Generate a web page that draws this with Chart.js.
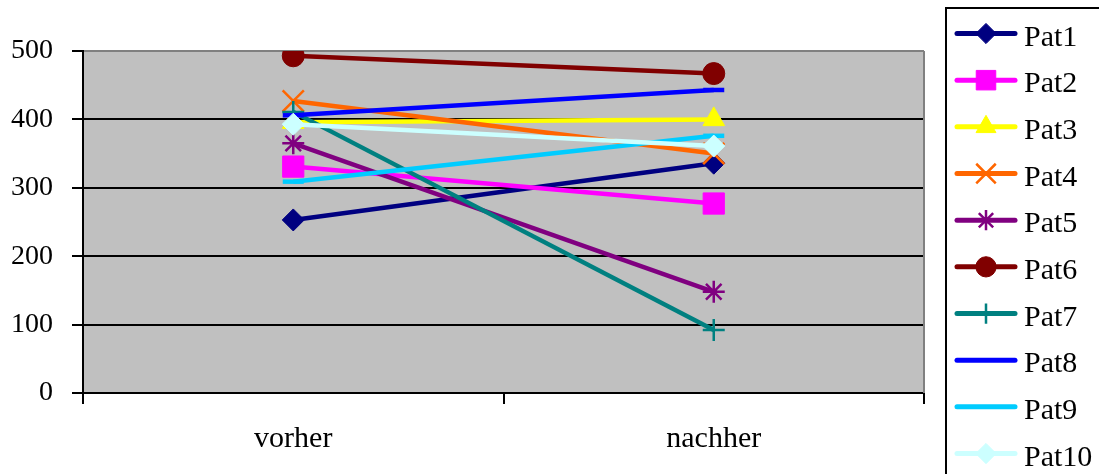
<!DOCTYPE html>
<html>
<head>
<meta charset="utf-8">
<script src="https://cdn.jsdelivr.net/npm/chart.js@4/dist/chart.umd.min.js"></script>
<style>
  html, body { margin: 0; padding: 0; background: #ffffff; }
  #wrap { width: 1099px; height: 474px; }
</style>
</head>
<body>
<div id="wrap"><canvas id="c" width="1099" height="474"></canvas></div>
<script>
// Measurements per patient, before ("vorher") and after ("nachher")
const categories = ['vorher', 'nachher'];
const patientNames = ['Pat1', 'Pat2', 'Pat3', 'Pat4', 'Pat5', 'Pat6', 'Pat7', 'Pat8', 'Pat9', 'Pat10'];
const pat1 = [253, 336];
const pat2 = [331, 277];
const pat3 = [396, 400];
const pat4 = [427, 350];
const pat5 = [365, 148];
const pat6 = [493, 467];
const pat7 = [411, 92];
const pat8 = [406, 443];
const pat9 = [309, 376];
const pat10 = [393, 361];
const yTicks = [0, 100, 200, 300, 400, 500];

const seriesValues = [pat1, pat2, pat3, pat4, pat5, pat6, pat7, pat8, pat9, pat10];

// Line colour, marker shape, marker radius, marker outline width
const styles = [
  { color: '#000080', shape: 'rectRot', r: 11, bw: 1 },
  { color: '#FF00FF', shape: 'rect', r: 15, bw: 1 },
  { color: '#FFFF00', shape: 'triangle', r: 12.5, bw: 1 },
  { color: '#FF6600', shape: 'crossRot', r: 15, bw: 2.5 },
  { color: '#800080', shape: 'star', r: 11, bw: 2.5 },
  { color: '#800000', shape: 'circle', r: 11, bw: 1 },
  { color: '#008080', shape: 'cross', r: 11, bw: 2.5 },
  { color: '#0000FF', shape: 'line', r: 10.5, bw: 4.5 },
  { color: '#00CCFF', shape: 'line', r: 10.5, bw: 4.5 },
  { color: '#CCFFFF', shape: 'rectRot', r: 11, bw: 1 }
];

const datasets = seriesValues.map((vals, i) => ({
  label: patientNames[i],
  data: vals,
  borderColor: styles[i].color,
  backgroundColor: styles[i].color,
  borderWidth: 4.5,
  pointStyle: styles[i].shape,
  pointRadius: styles[i].r,
  pointHoverRadius: styles[i].r,
  pointBorderWidth: styles[i].bw,
  pointBorderColor: styles[i].color,
  pointBackgroundColor: styles[i].color,
  tension: 0,
  order: seriesValues.length - i
}));

const SERIF = '"Liberation Serif", "Times New Roman", serif';

// Grey plot background plus the grey frame edge on the right
const plotArea = {
  id: 'plotArea',
  beforeDraw(chart) {
    const { ctx, chartArea: a } = chart;
    ctx.save();
    ctx.fillStyle = '#C0C0C0';
    ctx.fillRect(a.left, a.top, a.right - a.left, a.bottom - a.top);
    ctx.restore();
  },
  beforeDatasetsDraw(chart) {
    const { ctx, chartArea: a } = chart;
    ctx.save();
    ctx.strokeStyle = '#808080';
    ctx.lineWidth = 2;
    ctx.beginPath();
    ctx.moveTo(a.right, a.top);
    ctx.lineTo(a.right, a.bottom);
    ctx.stroke();
    ctx.restore();
  }
};

// Boxed legend on the right: line sample with its marker, then the name
const sideLegend = {
  id: 'sideLegend',
  afterDraw(chart) {
    const { ctx } = chart;
    const boxX = 946, boxY = 8;
    ctx.save();
    ctx.fillStyle = '#ffffff';
    ctx.fillRect(boxX, boxY, 200, 500);
    ctx.strokeStyle = '#000000';
    ctx.lineWidth = 2;
    ctx.strokeRect(boxX, boxY, 200, 500);
    chart.data.datasets.forEach((ds, i) => {
      const y = 33.5 + i * 46.67;
      ctx.strokeStyle = ds.borderColor;
      ctx.lineWidth = 5;
      ctx.lineCap = 'round';
      ctx.beginPath();
      ctx.moveTo(957, y);
      ctx.lineTo(1015, y);
      ctx.stroke();
      ctx.lineCap = 'butt';
      ctx.fillStyle = ds.pointBackgroundColor;
      ctx.strokeStyle = ds.pointBorderColor;
      ctx.lineWidth = ds.pointBorderWidth;
      Chart.helpers.drawPoint(ctx, {
        pointStyle: ds.pointStyle,
        radius: ds.pointStyle === 'line' ? 0.01 : ds.pointRadius * 0.92,
        rotation: 0,
        borderWidth: ds.pointBorderWidth
      }, 986, y);
      ctx.fillStyle = '#000000';
      ctx.font = '30px ' + SERIF;
      ctx.textAlign = 'left';
      ctx.textBaseline = 'alphabetic';
      ctx.fillText(ds.label, 1024, y + 12);
    });
    ctx.restore();
  }
};

new Chart(document.getElementById('c'), {
  type: 'line',
  data: { labels: categories, datasets },
  plugins: [plotArea, sideLegend],
  options: {
    responsive: false,
    devicePixelRatio: 1,
    animation: false,
    layout: { padding: { left: 0, top: 51, right: 175, bottom: 0 } },
    plugins: {
      legend: { display: false },
      tooltip: { enabled: false }
    },
    scales: {
      x: {
        offset: true,
        grid: {
          offset: true,
          drawOnChartArea: false,
          color: '#000000',
          lineWidth: 2,
          tickLength: 11
        },
        border: { color: '#000000', width: 2 },
        ticks: {
          color: '#000000',
          font: { family: SERIF, size: 30 },
          padding: 17,
          maxRotation: 0
        },
        afterFit(scale) { scale.height = 81; }
      },
      y: {
        min: 0,
        max: 500,
        afterBuildTicks(scale) { scale.ticks = yTicks.map(v => ({ value: v })); },
        grid: {
          color: ctx => (ctx.tick && ctx.tick.value === 500 ? '#808080' : '#000000'),
          tickColor: '#000000',
          lineWidth: 2,
          tickLength: 11
        },
        border: { color: '#000000', width: 2 },
        ticks: {
          color: '#000000',
          font: { family: SERIF, size: 28 },
          padding: 19
        },
        afterFit(scale) { scale.width = 83; }
      }
    }
  }
});
</script>
</body>
</html>
